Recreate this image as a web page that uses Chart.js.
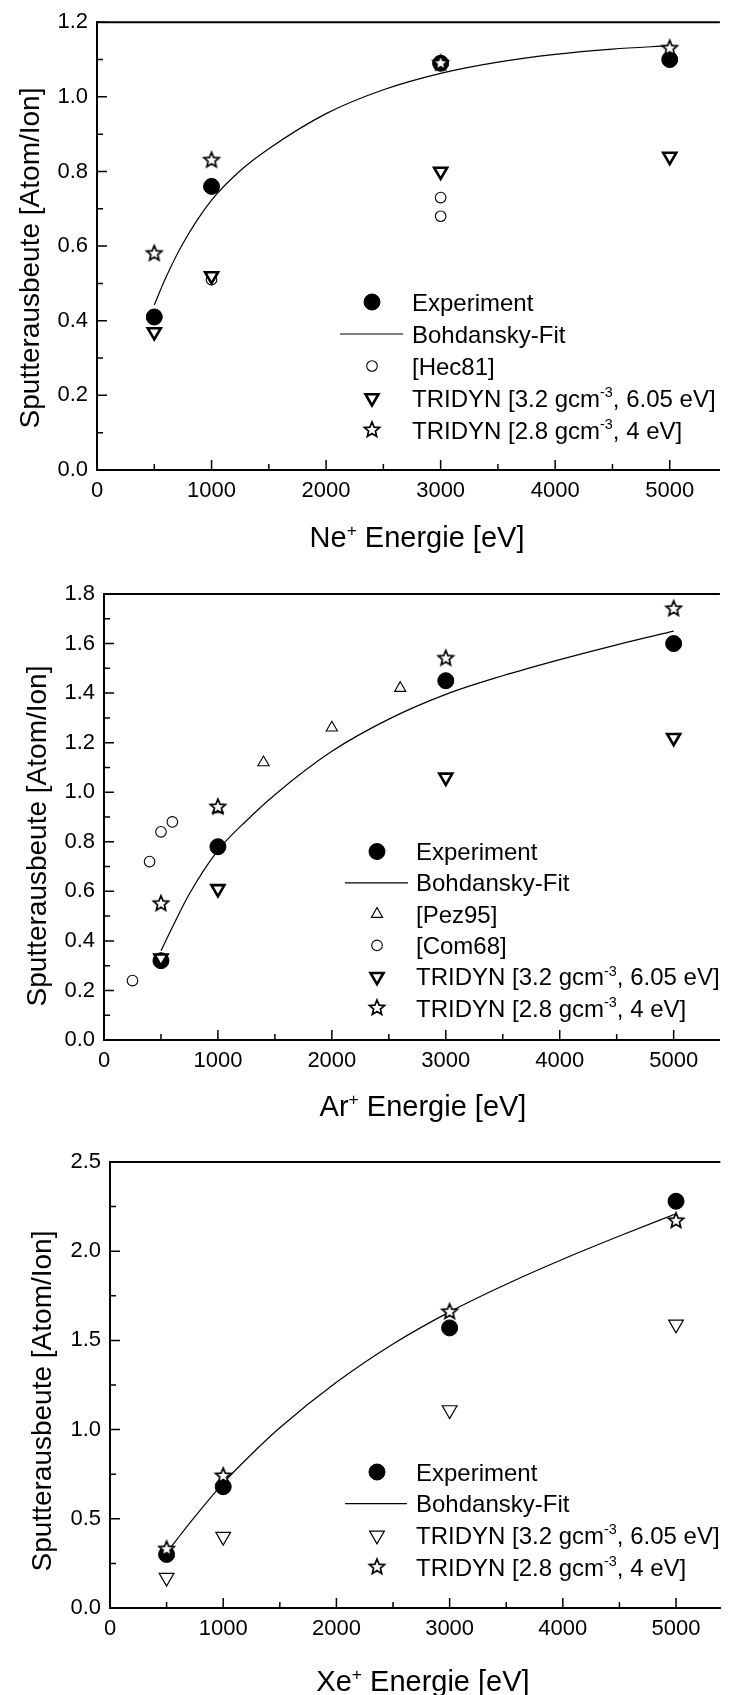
<!DOCTYPE html>
<html>
<head>
<meta charset="utf-8">
<script src="https://cdn.jsdelivr.net/npm/chart.js@4.4.1/dist/chart.umd.min.js"></script>
<style>
  html, body { margin: 0; padding: 0; background: #fff; overflow: hidden; }
  body { width: 730px; height: 1695px; position: relative; }
  canvas { position: absolute; left: 0; }
</style>
</head>
<body>
<canvas id="ne" width="730" height="565" style="top:0px"></canvas>
<canvas id="ar" width="730" height="565" style="top:565px"></canvas>
<canvas id="xe" width="730" height="565" style="top:1130px"></canvas>
<script>
// ---- data ----
const energies = [500, 1000, 3000, 5000];
const fitEnergies = [500, 600, 750, 1000, 1250, 1500, 2000, 2500, 3000, 3500, 4000, 4500, 5000];
const xTickValues = [0, 1000, 2000, 3000, 4000, 5000];

// Ne+
const neExperiment = [0.41, 0.76, 1.09, 1.10];
const neTridyn32 = [0.37, 0.52, 0.80, 0.84];
const neTridyn28 = [0.58, 0.83, 1.09, 1.13];
const neHecEnergies = [1000, 3000, 3000];
const neHec81 = [0.51, 0.73, 0.68];
const neFit = [0.442, 0.515, 0.607, 0.723, 0.802, 0.861, 0.955, 1.019, 1.063, 1.093, 1.114, 1.128, 1.137];
const neYTicks = [0, 0.2, 0.4, 0.6, 0.8, 1.0, 1.2];

// Ar+
const arExperiment = [0.32, 0.78, 1.45, 1.60];
const arTridyn32 = [0.33, 0.61, 1.06, 1.22];
const arTridyn28 = [0.55, 0.94, 1.54, 1.74];
const arPezEnergies = [1000, 1400, 2000, 2600];
const arPez95 = [0.93, 1.12, 1.26, 1.42];
const arComEnergies = [250, 400, 500, 600];
const arCom68 = [0.24, 0.72, 0.84, 0.88];
const arFit = [0.36, 0.455, 0.59, 0.765, 0.885, 0.99, 1.165, 1.295, 1.395, 1.47, 1.535, 1.595, 1.65];
const arYTicks = [0, 0.2, 0.4, 0.6, 0.8, 1.0, 1.2, 1.4, 1.6, 1.8];

// Xe+
const xeExperiment = [0.30, 0.68, 1.57, 2.28];
const xeTridyn32 = [0.17, 0.40, 1.11, 1.59];
const xeTridyn28 = [0.33, 0.74, 1.66, 2.17];
const xeFit = [0.31, 0.392, 0.512, 0.70, 0.862, 1.01, 1.265, 1.48, 1.66, 1.815, 1.955, 2.085, 2.21];
const xeYTicks = [0, 0.5, 1.0, 1.5, 2.0, 2.5];

// ---- styles ----
const FONT = '"Liberation Sans", Arial, Helvetica, sans-serif';
const tickFont = { family: FONT, size: 22 };

function makeStar(r, lw) {
  const c = document.createElement('canvas');
  const s = Math.ceil(2 * r + 2 * lw + 2);
  c.width = s; c.height = s;
  const g = c.getContext('2d');
  g.translate(s / 2, s / 2);
  g.beginPath();
  for (let i = 0; i < 10; i++) {
    const rr = i % 2 ? r * 0.45 : r;
    const a = -Math.PI / 2 + i * Math.PI / 5;
    g.lineTo(rr * Math.cos(a), rr * Math.sin(a));
  }
  g.closePath();
  g.fillStyle = '#fff'; g.fill();
  g.lineJoin = 'miter';
  g.lineWidth = lw; g.strokeStyle = '#000'; g.stroke();
  return c;
}
const starImg = makeStar(8, 1.7);

const sExperiment = { pointStyle: 'circle', pointRadius: 8, pointBackgroundColor: '#000', pointBorderColor: '#000', pointBorderWidth: 1, order: 4 };
const sFit = { showLine: true, borderColor: '#000', borderWidth: 1.2, pointRadius: 0, cubicInterpolationMode: 'monotone', order: 5 };
const sOpenCircle = { pointStyle: 'circle', pointRadius: 5.3, pointBackgroundColor: '#fff', pointBorderColor: '#000', pointBorderWidth: 1.1, order: 3 };
const sUpTri = { pointStyle: 'triangle', pointRadius: 6.5, pointBackgroundColor: '#fff', pointBorderColor: '#000', pointBorderWidth: 1.1, order: 3 };
const sDownTriBold = { pointStyle: 'triangle', pointRotation: 180, pointRadius: 7.5, pointBackgroundColor: '#fff', pointBorderColor: '#000', pointBorderWidth: 2.6, order: 2 };
const sDownTriThin = { pointStyle: 'triangle', pointRotation: 180, pointRadius: 8.5, pointBackgroundColor: '#fff', pointBorderColor: '#000', pointBorderWidth: 1.2, order: 2 };
const sStar = { pointStyle: starImg, pointRadius: 8, order: 1 };

function pts(xs, ys) { return xs.map((x, i) => ({ x: x, y: ys[i] })); }

const TRI32 = [['TRIDYN [3.2 gcm'], ['-3', 1], [', 6.05 eV]']];
const TRI28 = [['TRIDYN [2.8 gcm'], ['-3', 1], [', 4 eV]']];

// ---- drawing helpers ----
function drawRich(ctx, parts, x, y, size, align) {
  let total = 0;
  const widths = parts.map(p => {
    ctx.font = (p[1] ? size * 0.6 : size) + 'px ' + FONT;
    const w = ctx.measureText(p[0]).width;
    total += w;
    return w;
  });
  let cx = align === 'center' ? x - total / 2 : x;
  ctx.textBaseline = 'alphabetic';
  ctx.textAlign = 'left';
  ctx.fillStyle = '#000';
  parts.forEach((p, i) => {
    ctx.font = (p[1] ? size * 0.6 : size) + 'px ' + FONT;
    const base = y + 0.358 * size - (p[1] ? 0.4 * size : 0);
    ctx.fillText(p[0], cx, base);
    cx += widths[i];
  });
}

function drawMark(ctx, st, x, y) {
  ctx.save();
  ctx.fillStyle = st.pointBackgroundColor || '#fff';
  ctx.strokeStyle = st.pointBorderColor || '#000';
  ctx.lineWidth = st.pointBorderWidth || 0;
  Chart.helpers.drawPoint(ctx, {
    pointStyle: st.pointStyle, rotation: st.pointRotation || 0,
    radius: st.pointRadius, borderWidth: st.pointBorderWidth || 0
  }, x, y);
  ctx.restore();
}

function framePlugin(cfg) {
  return {
    id: 'frame',
    beforeDatasetsDraw(chart) {
      const ctx = chart.ctx, a = chart.chartArea;
      const x = chart.scales.x, y = chart.scales.y;
      ctx.save();
      ctx.strokeStyle = '#000';
      ctx.lineWidth = 2;
      ctx.beginPath();
      ctx.moveTo(a.left - 1, a.top);
      ctx.lineTo(a.right, a.top);
      ctx.stroke();
      ctx.lineWidth = 1.5;
      ctx.beginPath();
      xTickValues.forEach(v => {
        const p = x.getPixelForValue(v);
        ctx.moveTo(p, a.bottom); ctx.lineTo(p, a.bottom - 10);
        const m = v + (xTickValues[1] - xTickValues[0]) / 2;
        if (m < x.max) {
          const q = x.getPixelForValue(m);
          ctx.moveTo(q, a.bottom); ctx.lineTo(q, a.bottom - 6);
        }
      });
      const yt = cfg.yTicks;
      yt.forEach((v, i) => {
        const p = y.getPixelForValue(v);
        ctx.moveTo(a.left, p); ctx.lineTo(a.left + 10, p);
        if (i < yt.length - 1) {
          const q = y.getPixelForValue((v + yt[i + 1]) / 2);
          ctx.moveTo(a.left, q); ctx.lineTo(a.left + 6, q);
        }
      });
      ctx.stroke();
      ctx.restore();
    },
    afterDraw(chart) {
      const ctx = chart.ctx;
      ctx.save();
      // axis titles
      ctx.save();
      ctx.translate(cfg.yTitle[0], cfg.yTitle[1]);
      ctx.rotate(-Math.PI / 2);
      drawRich(ctx, [['Sputterausbeute [Atom/Ion]']], 0, 0, 28, 'center');
      ctx.restore();
      drawRich(ctx, [[cfg.ion], ['+', 1], [' Energie [eV]']], cfg.xTitle[0], cfg.xTitle[1], 29, 'center');
      // legend
      const L = cfg.legend;
      L.items.forEach((it, i) => {
        const yy = L.y + i * L.step;
        if (it.line) {
          ctx.save();
          ctx.strokeStyle = '#000'; ctx.lineWidth = 1.2;
          ctx.beginPath(); ctx.moveTo(L.lineFrom, yy); ctx.lineTo(L.lineTo, yy); ctx.stroke();
          ctx.restore();
        } else {
          drawMark(ctx, it.style, L.markX, yy);
        }
        drawRich(ctx, it.text, L.textX, yy, 24, 'left');
      });
      ctx.restore();
    }
  };
}

function makeChart(id, cfg) {
  new Chart(document.getElementById(id), {
    type: 'scatter',
    data: { datasets: cfg.datasets },
    options: {
      responsive: false,
      animation: false,
      events: [],
      layout: { padding: { top: cfg.top, left: 0, right: 0, bottom: 0 } },
      plugins: { legend: { display: false }, tooltip: { enabled: false } },
      scales: {
        x: {
          type: 'linear', min: 0, max: cfg.xMax,
          afterFit: s => { s.height = 565 - cfg.bottom; },
          afterBuildTicks: s => { s.ticks = xTickValues.map(v => ({ value: v })); },
          grid: { display: false, drawTicks: false },
          border: { display: true, color: '#000', width: 2 },
          ticks: { color: '#000', font: tickFont, padding: 8, maxRotation: 0, autoSkip: false, callback: v => String(v) }
        },
        y: {
          type: 'linear', min: 0, max: cfg.yTicks[cfg.yTicks.length - 1],
          afterFit: s => { s.width = cfg.left; },
          afterBuildTicks: s => { s.ticks = cfg.yTicks.map(v => ({ value: v })); },
          grid: { display: false, drawTicks: false },
          border: { display: true, color: '#000', width: 2 },
          ticks: { color: '#000', font: tickFont, padding: 9, autoSkip: false, callback: v => v.toFixed(1) }
        }
      }
    },
    plugins: [framePlugin(cfg)]
  });
}

makeChart('ne', {
  top: 19, bottom: 470, left: 97, xMax: 5438, yTicks: neYTicks, ion: 'Ne',
  yTitle: [29, 258], xTitle: [417, 537],
  datasets: [
    Object.assign({ label: 'Experiment', data: pts(energies, neExperiment) }, sExperiment),
    Object.assign({ label: 'Bohdansky-Fit', data: pts(fitEnergies, neFit) }, sFit),
    Object.assign({ label: '[Hec81]', data: pts(neHecEnergies, neHec81) }, sOpenCircle),
    Object.assign({ label: 'TRIDYN 3.2', data: pts(energies, neTridyn32) }, sDownTriBold),
    Object.assign({ label: 'TRIDYN 2.8', data: pts(energies, neTridyn28) }, sStar)
  ],
  legend: {
    markX: 372, textX: 412, y: 302, step: 32, lineFrom: 340, lineTo: 403,
    items: [
      { style: sExperiment, text: [['Experiment']] },
      { line: true, text: [['Bohdansky-Fit']] },
      { style: sOpenCircle, text: [['[Hec81]']] },
      { style: sDownTriBold, text: TRI32 },
      { style: sStar, text: TRI28 }
    ]
  }
});

makeChart('ar', {
  top: 29, bottom: 475, left: 104, xMax: 5406, yTicks: arYTicks, ion: 'Ar',
  yTitle: [36, 271], xTitle: [423, 541],
  datasets: [
    Object.assign({ label: 'Experiment', data: pts(energies, arExperiment) }, sExperiment),
    Object.assign({ label: 'Bohdansky-Fit', data: pts(fitEnergies, arFit) }, sFit),
    Object.assign({ label: '[Pez95]', data: pts(arPezEnergies, arPez95) }, sUpTri),
    Object.assign({ label: '[Com68]', data: pts(arComEnergies, arCom68) }, sOpenCircle),
    Object.assign({ label: 'TRIDYN 3.2', data: pts(energies, arTridyn32) }, sDownTriBold),
    Object.assign({ label: 'TRIDYN 2.8', data: pts(energies, arTridyn28) }, sStar)
  ],
  legend: {
    markX: 377, textX: 416, y: 286.5, step: 31.3, lineFrom: 345, lineTo: 408,
    items: [
      { style: sExperiment, text: [['Experiment']] },
      { line: true, text: [['Bohdansky-Fit']] },
      { style: sUpTri, text: [['[Pez95]']] },
      { style: sOpenCircle, text: [['[Com68]']] },
      { style: sDownTriBold, text: TRI32 },
      { style: sStar, text: TRI28 }
    ]
  }
});

makeChart('xe', {
  top: 32, bottom: 478, left: 110, xMax: 5391, yTicks: xeYTicks, ion: 'Xe',
  yTitle: [41, 271], xTitle: [423, 551],
  datasets: [
    Object.assign({ label: 'Experiment', data: pts(energies, xeExperiment) }, sExperiment),
    Object.assign({ label: 'Bohdansky-Fit', data: pts(fitEnergies, xeFit) }, sFit),
    Object.assign({ label: 'TRIDYN 3.2', data: pts(energies, xeTridyn32) }, sDownTriThin),
    Object.assign({ label: 'TRIDYN 2.8', data: pts(energies, xeTridyn28) }, sStar)
  ],
  legend: {
    markX: 377, textX: 416, y: 342, step: 31.7, lineFrom: 345, lineTo: 407,
    items: [
      { style: sExperiment, text: [['Experiment']] },
      { line: true, text: [['Bohdansky-Fit']] },
      { style: sDownTriThin, text: TRI32 },
      { style: sStar, text: TRI28 }
    ]
  }
});
</script>
</body>
</html>
